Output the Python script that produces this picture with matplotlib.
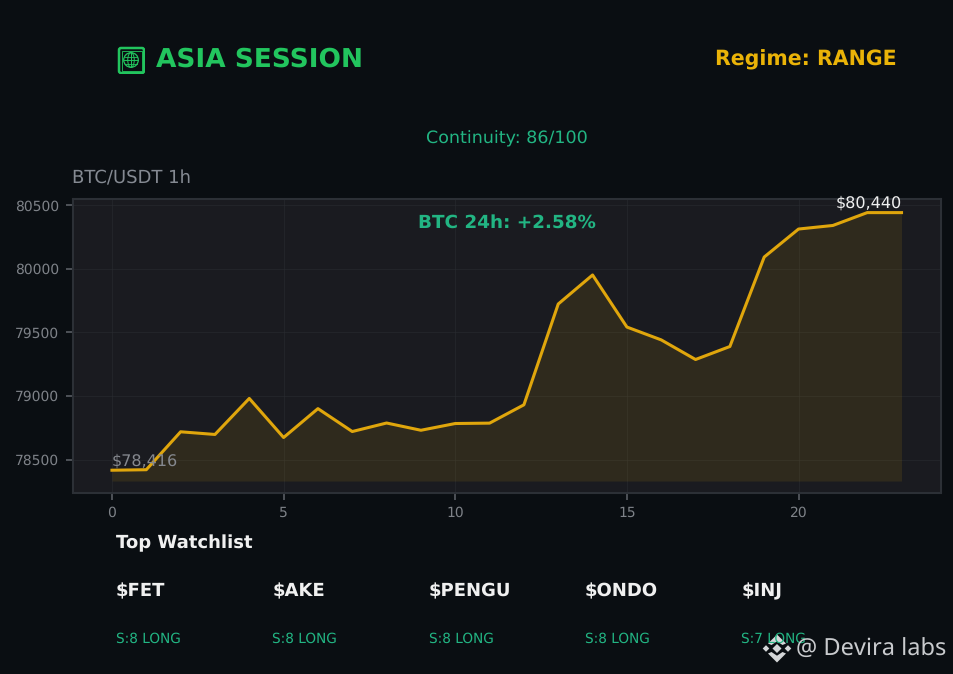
import matplotlib
matplotlib.use("Agg")
import matplotlib.pyplot as plt
from matplotlib.patches import FancyBboxPatch, Circle, Ellipse, Polygon, Rectangle

plt.rcParams["text.hinting"] = "none"

W, H = 954, 674
hours = list(range(24))
prices = [78416, 78420, 78718, 78697, 78980, 78673, 78900, 78720, 78787, 78730, 78783, 78786,
          78930, 79722, 79950, 79541, 79440, 79286, 79388, 80091, 80311, 80339, 80440, 80440]
fill_floor = 78331
symbols = ["$FET", "$AKE", "$PENGU", "$ONDO", "$INJ"]
signals = ["S:8 LONG", "S:8 LONG", "S:8 LONG", "S:8 LONG", "S:7 LONG"]
x_ticks = [0, 5, 10, 15, 20]
y_ticks = [78500, 79000, 79500, 80000, 80500]

BG = "#0a0e12"
fig = plt.figure(figsize=(W / 100, H / 100), dpi=100, facecolor=BG)
def fx(x): return x / W
def fy(y): return 1 - y / H
def label(x, y, s, **kw):
    kw.setdefault("va", "center")
    return fig.text(fx(x), fy(y), s, **kw)

ax = fig.add_axes([fx(73), fy(492.5), (941 - 73) / W, (492.5 - 199) / H], facecolor="#1a1b20")
ax.set_xlim(-1.135, 24.15)
ax.set_ylim(78241, 80547)
ax.fill_between(hours, prices, fill_floor, color="#e6a90a", alpha=0.105, lw=0)
ax.plot(hours, prices, color="#e0a60c", lw=2.2, solid_joinstyle="round")
ax.set_xticks(x_ticks)
ax.set_yticks(y_ticks)
ax.grid(True, color="#2a2c31", lw=0.7, alpha=0.55)
ax.set_axisbelow(True)
ax.tick_params(colors="#7e8288", labelsize=10, length=5, width=1.2, pad=5)
ax.tick_params(axis="both", color="#5a5e64")
for s in ax.spines.values():
    s.set_color("#2c3036")
    s.set_linewidth(1.5)

ax.text(0, prices[0] + 12, "$78,416", color="#85888e", fontsize=11.5, ha="left", va="bottom")
ax.text(23, prices[-1] + 10, "$80,440", color="#f0f0f0", fontsize=11.5, ha="right", va="bottom")
label(507, 223, "BTC 24h: +2.58%", color="#22b583", fontsize=13.2, fontweight="bold", ha="center")
label(72.5, 178, "BTC/USDT 1h", color="#858a92", fontsize=13, ha="left")

# Header
label(156, 59, "ASIA SESSION", color="#22c55e", fontsize=19, fontweight="bold", ha="left")
label(897, 60, "Regime: RANGE", color="#eab308", fontsize=14.8, fontweight="bold", ha="right")
label(507, 138.5, "Continuity: 86/100", color="#22b583", fontsize=12.6, ha="center")

# Globe icon
icon = fig.add_axes([fx(117), fy(74), 28 / W, 28 / H])
icon.set_xlim(117, 145); icon.set_ylim(74, 46); icon.axis("off")
g = "#22c55e"
icon.add_patch(FancyBboxPatch((119, 48), 25, 25, boxstyle="round,pad=0,rounding_size=2", fill=False, ec=g, lw=1.8))
icon.add_patch(Rectangle((121.5, 50.5), 20, 20, fill=False, ec=g, lw=0.6))
icon.add_patch(Circle((131, 60), 7.3, fill=False, ec=g, lw=0.9))
icon.add_patch(Ellipse((131, 60), 6.5, 14.6, fill=False, ec=g, lw=0.7))
icon.plot([123.7, 138.3], [60, 60], color=g, lw=0.7)
icon.plot([131, 131], [52.7, 67.3], color=g, lw=0.7)
icon.plot([125, 137], [56.5, 56.5], color=g, lw=0.6)
icon.plot([125, 137], [63.5, 63.5], color=g, lw=0.6)

# Watchlist
label(116, 543, "Top Watchlist", color="#f0f0f0", fontsize=13, fontweight="bold", ha="left")
for i, (sym, sig) in enumerate(zip(symbols, signals)):
    x = 116 + i * 156.3
    label(x, 591, sym, color="#f0f0f0", fontsize=13, fontweight="bold", ha="left")
    label(x, 639, sig, color="#22b583", fontsize=9.8, ha="left")

# Watermark
logo = fig.add_axes([0, 0, 1, 1], facecolor="none")
logo.set_xlim(0, W); logo.set_ylim(H, 0); logo.axis("off")
c = "#d4d6d8"
cx, cy = 777, 648.5
logo.add_patch(Polygon([(cx, cy-4.5), (cx+4.5, cy), (cx, cy+4.5), (cx-4.5, cy)], color=c, lw=0))
for dx in (-11, 11):
    logo.add_patch(Polygon([(cx+dx, cy-3.3), (cx+dx+3.3, cy), (cx+dx, cy+3.3), (cx+dx-3.3, cy)], color=c, lw=0))
for sgn in (-1, 1):
    logo.add_patch(Polygon([(cx, cy+sgn*14), (cx+9, cy+sgn*5), (cx+5.5, cy+sgn*3.5), (cx, cy+sgn*7.2),
                            (cx-5.5, cy+sgn*3.5), (cx-9, cy+sgn*5)], color=c, lw=0))
label(796, 649.5, "@ Devira labs", color="#c9cbce", fontsize=17, ha="left", family="Noto Sans")

fig.savefig("out.png", dpi=100, facecolor=BG)
